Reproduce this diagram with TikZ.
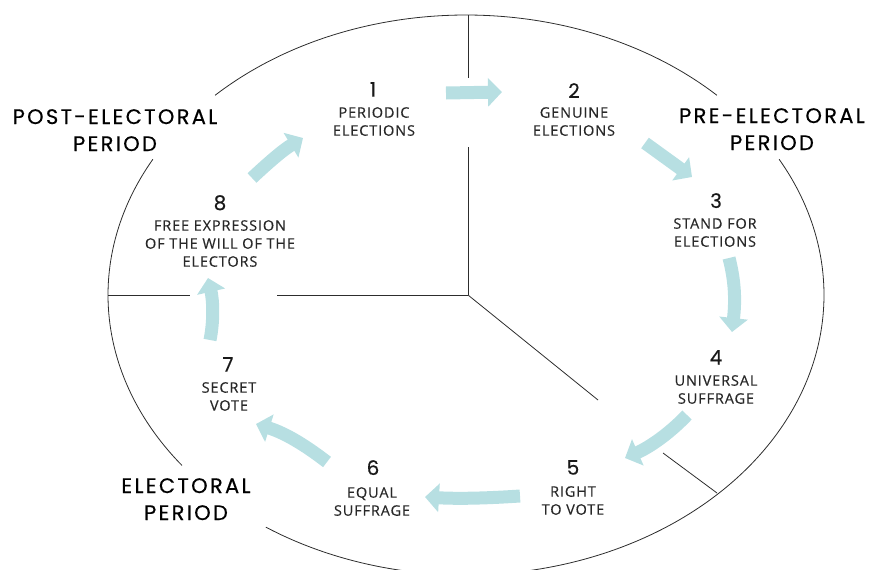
\documentclass[tikz,border=0pt]{standalone}
\usepackage{fontspec}
\usetikzlibrary{arrows.meta}
\newfontfamily\bigfont[LetterSpace=11,FakeBold=0.4]{Poppins}
\newfontfamily\numfont[FakeBold=0.3]{Poppins}
\newfontfamily\smallfont[LetterSpace=6,FakeBold=0.4]{Open Sans}
\definecolor{arrowcol}{RGB}{183,223,226}
\definecolor{linecol}{RGB}{45,45,45}
\definecolor{txtcol}{RGB}{40,40,40}
\tikzset{
  divline/.style={draw=linecol, line width=0.8pt},
  period/.style={anchor=north, inner sep=0pt, align=center, text=black, font=\bigfont\fontsize{21}{27}\selectfont},
  numlabel/.style={anchor=north, inner sep=0pt, text=black!90, font=\numfont\fontsize{20}{22}\selectfont},
  itemtext/.style={anchor=north, inner sep=0pt, align=center, text=txtcol, font=\smallfont\fontsize{14.5}{18}\selectfont},
  cyclearrow/.style={draw=arrowcol, line width=13pt, -{Triangle[width=28pt,length=14pt]}}
}
\begin{document}
\begin{tikzpicture}[x=1pt,y=-1pt]
\useasboundingbox (0,0) rectangle (870,570);
% ellipse arcs
\draw[divline] plot[domain=45.5:134.5, samples=120] ({466+358*cos(\x)},{295-280*sin(\x)});
\draw[divline] plot[domain=151:217.5, samples=100] ({466+358*cos(\x)},{295-280*sin(\x)});
\draw[divline] plot[domain=236:389, samples=200] ({466+358*cos(\x)},{295-280*sin(\x)});
% divider lines
\coordinate (ctr) at (468,295);
\coordinate (vtop) at (468,15);
\coordinate (vgapA) at (468,78);
\coordinate (vgapB) at (468,147);
\coordinate (hleft) at (108,295);
\coordinate (hgapA) at (190,295);
\coordinate (hgapB) at (277,295);
\coordinate (dgapA) at (598,400);
\coordinate (dgapB) at (663,453);
\coordinate (dend) at (717,493);
\draw[divline] (vtop) -- (vgapA);
\draw[divline] (vgapB) -- (ctr);
\draw[divline] (hleft) -- (hgapA);
\draw[divline] (hgapB) -- (ctr);
\draw[divline] (ctr) -- (dgapA);
\draw[divline] (dgapB) -- (dend);
% period labels
\node[period] (post) at (115,109) {POST-ELECTORAL\\PERIOD};
\node[period] (pre) at (772,108) {PRE-ELECTORAL\\PERIOD};
\node[period] (elec) at (186,478) {ELECTORAL\\PERIOD};
% items
\node[numlabel] (n1) at (373,82) {1};
\node[itemtext] (t1) at (374,107) {PERIODIC\\ELECTIONS};
\node[numlabel] (n2) at (574,83) {2};
\node[itemtext] (t2) at (574,107) {GENUINE\\ELECTIONS};
\node[numlabel] (n3) at (716,193) {3};
\node[itemtext] (t3) at (715,218) {STAND FOR\\ELECTIONS};
\node[numlabel] (n4) at (716,350) {4};
\node[itemtext] (t4) at (716,375) {UNIVERSAL\\SUFFRAGE};
\node[numlabel] (n5) at (573,460) {5};
\node[itemtext] (t5) at (573,486) {RIGHT\\TO VOTE};
\node[numlabel] (n6) at (373,460) {6};
\node[itemtext] (t6) at (372,487) {EQUAL\\SUFFRAGE};
\node[numlabel] (n7) at (228,357) {7};
\node[itemtext] (t7) at (229,382) {SECRET\\VOTE};
\node[numlabel] (n8) at (220,195) {8};
\node[itemtext] (t8) at (220,220) {FREE EXPRESSION\\OF THE WILL OF THE\\ELECTORS};
% arrows
\coordinate (a1s) at (446,93);  \coordinate (a1e) at (502,92);
\coordinate (a2s) at (645,143); \coordinate (a2e) at (692,177);
\coordinate (a3s) at (729,258); \coordinate (a3e) at (732,332);
\coordinate (a4s) at (687,415); \coordinate (a4e) at (625,458);
\coordinate (a5s) at (520,496); \coordinate (a5e) at (425,497);
\coordinate (a6s) at (327,462); \coordinate (a6e) at (256,424);
\coordinate (a7s) at (210,340); \coordinate (a7e) at (208,278);
\coordinate (a8s) at (252,178); \coordinate (a8e) at (303,138);
\draw[cyclearrow] (a1s) -- (a1e);
\draw[cyclearrow] (a2s) -- (a2e);
\draw[cyclearrow] (a3s) .. controls (736,285) and (735,305) .. (a3e);
\draw[cyclearrow] (a4s) .. controls (670,433) and (650,447) .. (a4e);
\draw[cyclearrow] (a5s) .. controls (490,498) and (460,499) .. (a5e);
\draw[cyclearrow] (a6s) .. controls (305,445) and (285,433) .. (a6e);
\draw[cyclearrow] (a7s) .. controls (214,320) and (213,300) .. (a7e);
\draw[cyclearrow] (a8s) .. controls (268,163) and (283,150) .. (a8e);
\end{tikzpicture}
\end{document}
